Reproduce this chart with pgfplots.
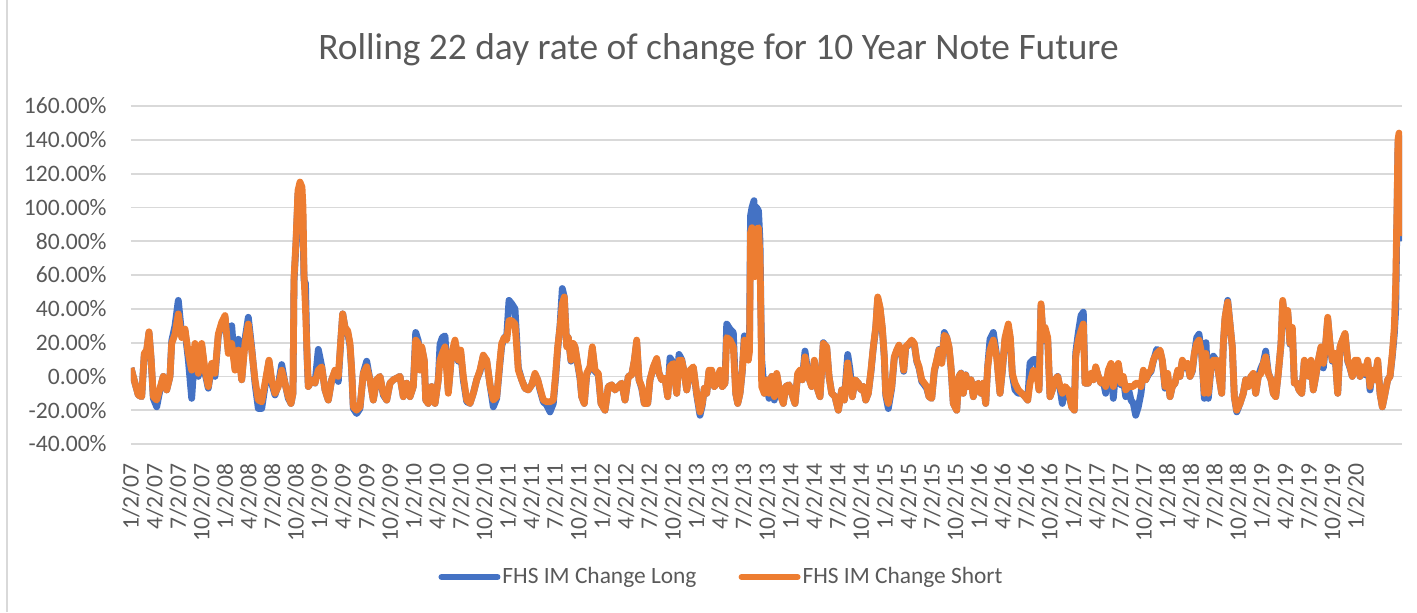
\documentclass[border=0pt]{standalone}
\usepackage{pgfplots}
\usepackage{pgfplotstable}
\usepackage{fontspec}
\setmainfont{Carlito}
\pgfplotsset{compat=1.18}
\definecolor{exblue}{HTML}{4472C4}
\definecolor{exorange}{HTML}{ED7D31}
\definecolor{gridgray}{HTML}{D9D9D9}
\definecolor{txtgray}{HTML}{595959}

\pgfplotstableread{
x long short
131 5 5
135 -4 -4
138.3 -11 -11
141.7 -12 -12
144.3 13 13.6
146.7 15 15.6
149 26 26.4
151 11 11.6
153.3 -13 -12
156.7 -18 -14
160 -8 -7
163.3 0 0
166.7 -8 -8
170 0 0
171.7 21 19.5
175 30 25
178.3 45 37
181.7 25 23
185 27 28
188.3 10 13.6
191.7 -13 3.7
195 17 19.5
198.3 0 1.8
201.7 18 19.5
205 2 3.7
208.3 -7 -6
211.7 6 7.7
215 0 1.8
218.3 24 25
221.7 31 32
225 35 36
228.3 15 13.6
231.7 30 19.5
235 5 3.7
238.3 22 15.6
241.7 -2 -2
245 22 19.5
248.3 35 31
251.7 17 15.6
255 -4 -2
258.3 -19 -14
261.7 -19 -15
265 -6 -4
269 9 9.6
271.7 -4 -2
275 -11 -10
278.3 -5 -6
281.7 7 3.7
285 -4 -4
288.3 -13 -12
291 -16 -16
293 -10 -10
294 56 58
296 78 80
298 108 110
300 113 115
302 105 112
303 90 100
304 57 60
305.5 55 40
307 12 15
308.3 -6 -6
311.7 -2 -2
315 -4 -4
318.3 16 3.7
321.7 6 5.7
325 -8 -8
328.3 -14 -14
331.7 -2 -2
335 3 3.7
338.3 -3 0
341 23 23
342.7 37 37
345 29 29
347.7 26 27
350 18 19.5
351.7 3 3.7
353.3 -19 -18
356.7 -22 -20
360 -19 -18
363.3 2 1.8
366.7 9 5.7
370 -2 -2
373.3 -14 -14
376.7 -2 -2
380 0 0
383.3 -11 -10
386.7 -14 -14
390 -4 -4
393.3 -2 -2
396.7 -1 -1
400 0 0
403.3 -12 -12
406.7 -4 -4
410 -12 -12
413.3 -6 -6
415.7 26 21.5
418.3 21 19.5
420 4 3.7
421.7 17 17.5
424.3 9 9.6
425.7 -14 -14
428.3 -16 -16
431.7 -6 -6
435 -16 -16
438.3 -2 -2
440 19 9.6
442.3 23 13.6
445 24 17.5
448.3 -9 -10
451.7 13 13.6
455 20 21.5
458.3 9 9.6
460.7 14 15.6
463.3 -2 0
466.7 -15 -14
470 -16 -16
473.3 -10 -10
476.7 -2 -2
480 3 3.7
483.3 12 12.6
486.7 9 9.6
490 -5 -5
493.3 -18 -14
496.7 -13 -12
500 8 9.6
501.7 18 19.5
504.3 23 23
506.7 24 21.5
509 45 33
511.7 43 33
515 40 31
516.7 22 17.5
518.3 5 3.7
521.7 -2 -2
525 -7 -7
528.3 -8 -8
531.7 -5 -5
535 1 1.8
537.7 -2 -2
540 -8 -7
543.3 -15 -14
546.7 -17 -15
550 -21 -15
553.3 -16 -14
555.7 0 1.8
557.7 16 17.5
560 30 29
562.3 52 43
564.3 47 47
566.7 18 17.5
568.3 23 23
571 9 9.6
573.3 19 19.5
575 17 17.5
577.7 7 7.7
580 -1 0
581.7 -12 -12
584.3 -16 -16
586.7 1 1.8
590 5 5.7
592.3 16 17.5
595 3 3.7
598.3 1 1.8
601 -16 -16
605 -20 -20
608.3 -6 -6
611.7 -5 -5
615 -8 -8
618.3 -6 -6
621.7 -4 -4
625 -14 -14
628.3 0 0
631.7 1 0.8
634.3 9 9.6
636.7 20 21.5
639 -2 -2
641.7 -7 -6
644.3 -16 -16
647.7 -16 -16
650 -2 -2
653.3 5 5.7
656.7 10 10.6
659 2 1.8
661.7 -2 -2
665 -1 -1
667.7 -12 -12
670 11 5.7
673.3 8 7.7
676.7 -10 -10
679 13 9.6
681.7 10 9.6
684.3 2 1.8
686.7 -8 -8
690 3 3.7
693.3 5 5.7
696.7 -11 -10
700 -23 -21
702.3 -17 -16
704.3 -7 -7
706.7 -10 -10
709 3 3.7
711.7 3 3.7
714.3 -6 -6
716.7 -4 -4
720 3 3.7
722.3 -6 -6
725 -4 -4
726.7 31 23
730 28 21.5
733.3 26 17.5
735.7 -10 -10
737.7 -16 -16
740 -10 -10
742.3 3 3.7
744.3 24 21.5
746.7 15 15.6
748.3 10 9.6
749.5 20 15
750.5 95 85
752 100 88
754 104 85
755 62 59
756.5 100 87
758.5 98 88
760 80 70
761 35 30
761.7 10 -6
764.3 -10 -10
766.7 -2 -2
769 -13 -10
771.7 0 0
774.3 -14 -12
776.7 1 1.8
780 -10 -10
783.3 -16 -16
785.7 -6 -6
789 -5 -5
791.7 -10 -10
795 -16 -16
797.7 1 1.8
800 3 3.7
802.3 -2 -2
805 15 11.6
808.3 0 0
811.7 -6 -6
814.3 9 9.6
816.7 -6 -6
820 -12 -12
823.3 20 19.5
826.7 17 17.5
829 0 0
831.7 -10 -10
835 -12 -12
838.3 -20 -20
841.7 -8 -8
844.3 -14 -14
847.7 13 8
850 4 -2
852.3 -12 -12
855 -2 -2
858.3 -4 -4
861 -8 -8
863.3 -6 -6
865.7 -14 -14
868.3 -10 -10
871 3 3.7
873.3 17 17.5
875.7 28 29
877.7 46 47
880 40 41
882.3 28 29
884.3 11 11.6
885.7 -11 -10
888.3 -19 -16
891.7 -7 -6
894.3 11 11.6
896.7 15 15.6
899 18 18.5
901.7 13 13.6
903.7 3 3.7
905.7 17 17.5
909 19 19.5
911.7 21 21.5
914.3 19 19.5
916.7 9 9.6
919 5 5.7
921.7 -3 -2
924.3 -5 -4
926.7 -7 -6
929 -12 -12
931.7 -13 -13
934.3 3 3.7
936.7 9 9.6
939 16 15.6
941.7 8 7.7
944.3 26 24.4
946.7 23 23
949 17 17.5
951 5 5.7
953.3 -16 -16
956.7 -20 -20
959 0 0
961 2 1.8
963.3 -10 -10
965.7 1 0.8
968.3 -6 -6
971 -2 -2
973.3 -12 -12
975.7 -6 -6
978.3 -4 -4
981 -10 -10
983.3 -4 -4
985.7 -16 -16
987.7 6 5.7
990 22 15.6
993.3 26 21.5
996.7 12 11.6
1000 -10 -10
1002.3 3 3.7
1005 22 23
1008.3 29 31
1010.3 22 23
1012.3 1 1.8
1015 -8 -4
1018.3 -10 -8
1021.7 -10 -10
1025 -12 -12
1027.7 -14 -14
1030 8 -4
1033.3 10 3.7
1036.7 10 1.8
1039 -8 -8
1041 42 43
1043.3 21 21.5
1045 22 29
1047.7 22 23
1050 -12 -12
1052.3 -8 -8
1055 -2 -2
1057.7 0 0
1060 -7 -6
1062.3 -16 -10
1065 -7 -6
1068.3 -9 -8
1071.7 -18 -18
1074.3 -20 -20
1075.7 14 11.6
1078.3 26 21.5
1081 36 27
1083.3 38 31
1085 -4 -4
1088.3 -4 -4
1091 1 1.8
1093.3 -2 -2
1095.7 5 5.7
1098.3 0 0
1101 -4 -4
1103.3 -3 -2
1105.7 -10 -6
1108.3 3 3.7
1111 7 7.7
1113.3 -13 -6
1115.7 3 3.7
1118.3 7 7.7
1121 -5 -4
1123.3 -1 0
1125.7 -12 -8
1128.3 -7 -6
1131 -14 -6
1133.3 -16 -6
1135.7 -23 -4
1138.3 -18 -4
1141 -10 -6
1143.3 3 3.7
1145.7 -2 -2
1148.3 1 1.8
1151 3 3.7
1153.3 9 9.6
1156.7 16 13.6
1160 15 15.6
1162.3 9 9.6
1165 -7 -6
1167.7 0 1.8
1170 -12 -12
1172.3 -6 -6
1175 -4 -4
1177.7 3 3.7
1180 0 0
1182.3 9 9.6
1185 5 5.7
1187.7 7 7.7
1190 0 0
1192.3 3 3.7
1194.3 13 13.6
1196.7 23 19.5
1199 25 21.5
1201.7 13 13.6
1204.3 -13 -10
1206 20 13.6
1208.3 -13 -10
1211 5 5.7
1213.3 12 9.6
1216.7 9 9.6
1219 0 0
1221.7 -10 -10
1223.3 19 19.5
1225 34 35
1227.7 45 44
1230 31 31
1232.3 17 17.5
1234.3 -12 -12
1236.7 -21 -20
1240 -16 -16
1243.3 -10 -10
1245.7 -2 -2
1248.3 -6 -6
1251 0 0
1253.3 1 1.8
1255.7 -10 -10
1258.3 0 0
1261 5 1.8
1263.3 8 7.7
1265.7 15 11.6
1268.3 2 1.8
1271 -2 -2
1273.3 -10 -10
1275.7 -12 -12
1278.3 2 1.8
1281 19 19.5
1282.7 44 45
1285 31 31
1287.7 38 39
1290 19 19.5
1292.3 28 29
1294.3 -4 -4
1296.7 -4 -4
1299 -8 -8
1301.7 -10 -10
1304.3 9 9.6
1306.7 5 5.7
1309 0 0
1311 9 9.6
1313.3 -8 -8
1315.7 0 0
1318.3 9 9.6
1321 17 17.5
1323.3 5 7.7
1325.7 19 19.5
1327.7 34 35
1330 19 19.5
1332.3 9 9.6
1335 13 13.6
1337.7 -10 -10
1340 17 17.5
1342.3 21 21.5
1345 25 25.4
1347.7 9 9.6
1350 5 5.7
1352.3 0 0
1355 9 9.6
1357.7 9 9.6
1360 0 0
1362.3 5 5.7
1365 1 1.8
1367.7 9 9.6
1370 -8 -6
1372.3 3 3.7
1375 -2 -2
1377.7 9 9.6
1380 -10 -10
1382.3 -18 -18
1385 -10 -10
1387.7 -2 -2
1390 0 0
1392.3 12 13.6
1394.3 25 29
1395.7 40 55
1397 95 100
1398 138 140
1399 142 144
1400 128 130
1401 118 122
1401.5 92 95
1402 80 83
}\datatable

\begin{document}
\begin{tikzpicture}
\path[use as bounding box] (0,0) rectangle (708.5pt,306pt);
\draw[gridgray, line width=0.8pt] (3.5pt,0) -- (3.5pt,306pt);
\node[font=\fontsize{18.7}{22}\selectfont, text=txtgray] at (359.25pt,281pt) {Rolling 22 day rate of change for 10 Year Note Future};
\begin{axis}[
  at={(65.5pt,84pt)}, anchor=south west,
  scale only axis, width=635.5pt, height=169pt,
  xmin=131, xmax=1402, ymin=-40, ymax=160,
  axis line style={draw=none},
  major tick length=0pt,
  ytick={-40,-20,...,160},
  yticklabels={-40.00\%,-20.00\%,0.00\%,20.00\%,40.00\%,60.00\%,80.00\%,100.00\%,120.00\%,140.00\%,160.00\%},
  ymajorgrids,
  major grid style={draw=gridgray, line width=0.9pt},
  xtick={131,154.5577,...,1357},
  xticklabels={1/2/07,4/2/07,7/2/07,10/2/07,1/2/08,4/2/08,7/2/08,10/2/08,1/2/09,4/2/09,7/2/09,10/2/09,1/2/10,4/2/10,7/2/10,10/2/10,1/2/11,4/2/11,7/2/11,10/2/11,1/2/12,4/2/12,7/2/12,10/2/12,1/2/13,4/2/13,7/2/13,10/2/13,1/2/14,4/2/14,7/2/14,10/2/14,1/2/15,4/2/15,7/2/15,10/2/15,1/2/16,4/2/16,7/2/16,10/2/16,1/2/17,4/2/17,7/2/17,10/2/17,1/2/18,4/2/18,7/2/18,10/2/18,1/2/19,4/2/19,7/2/19,10/2/19,1/2/20},
  yticklabel style={font=\fontsize{11.8}{14}\selectfont, text=txtgray, inner sep=0pt},
  yticklabel shift=12pt,
  xticklabel style={font=\fontsize{11.8}{14}\selectfont, text=txtgray, inner sep=0pt, rotate=90, anchor=east},
  xticklabel shift=9.5pt,
  legend style={at={(0.4646,-0.3935)}, anchor=center, draw=none, fill=none,
    legend columns=2, font=\fontsize{11.7}{14}\selectfont, text=txtgray,
    /tikz/every even column/.append style={column sep=20pt},
    nodes={inner sep=1pt}},
  legend image code/.code={\draw[#1, line width=3pt, line cap=round] (0pt,0pt) -- (28pt,0pt);},
]
\addplot[exblue, line width=3.4pt, line join=round] table[x=x, y=long] {\datatable};
\addlegendentry{FHS IM Change Long}
\addplot[exorange, line width=3.4pt, line join=round] table[x=x, y=short] {\datatable};
\addlegendentry{FHS IM Change Short}
\end{axis}
\end{tikzpicture}
\end{document}
